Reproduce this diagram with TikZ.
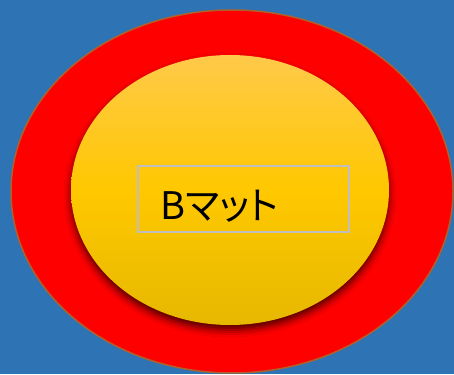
\documentclass[tikz,border=0pt]{standalone}
\usepackage{fontspec}
\newfontfamily\cjk[RawFeature=+palt]{Noto Sans CJK JP}
\usetikzlibrary{shapes.geometric,shadows.blur}
\definecolor{bgblue}{HTML}{2E74B5}
\definecolor{rimbrown}{HTML}{B0602A}
\definecolor{ytop}{HTML}{FFC94A}
\definecolor{ymid}{HTML}{FFC800}
\definecolor{ybot}{HTML}{E6B800}
\definecolor{boxgray}{HTML}{BFBFBF}
\tikzset{
  ring/.style={ellipse, inner sep=0pt, fill=red, draw=rimbrown, line width=1.5pt},
  core/.style={ellipse, inner sep=0pt, top color=ytop, bottom color=ybot, middle color=ymid,
    blur shadow={shadow xshift=0pt, shadow yshift=-5pt, shadow blur radius=7pt, shadow opacity=70}},
  textbox/.style={rectangle, draw=boxgray, line width=1.2pt, inner sep=0pt},
  txt/.style={font=\cjk\fontsize{38}{40}\selectfont, inner sep=0pt}
}
\begin{document}
\begin{tikzpicture}[x=1pt,y=1pt]
\fill[bgblue] (0,0) rectangle (454,374);
\useasboundingbox (0,0) rectangle (454,374);
\node[ring, minimum width=442pt, minimum height=363pt] (outer) at (232,182.5) {};
\node[core, minimum width=318pt, minimum height=270pt] (inner) at (230,184) {};
\node[textbox, minimum width=211pt, minimum height=66pt] (box) at (243.5,175) {};
\node[txt, anchor=base west] (lbl) at (160,154) {Bマット};
\end{tikzpicture}
\end{document}
